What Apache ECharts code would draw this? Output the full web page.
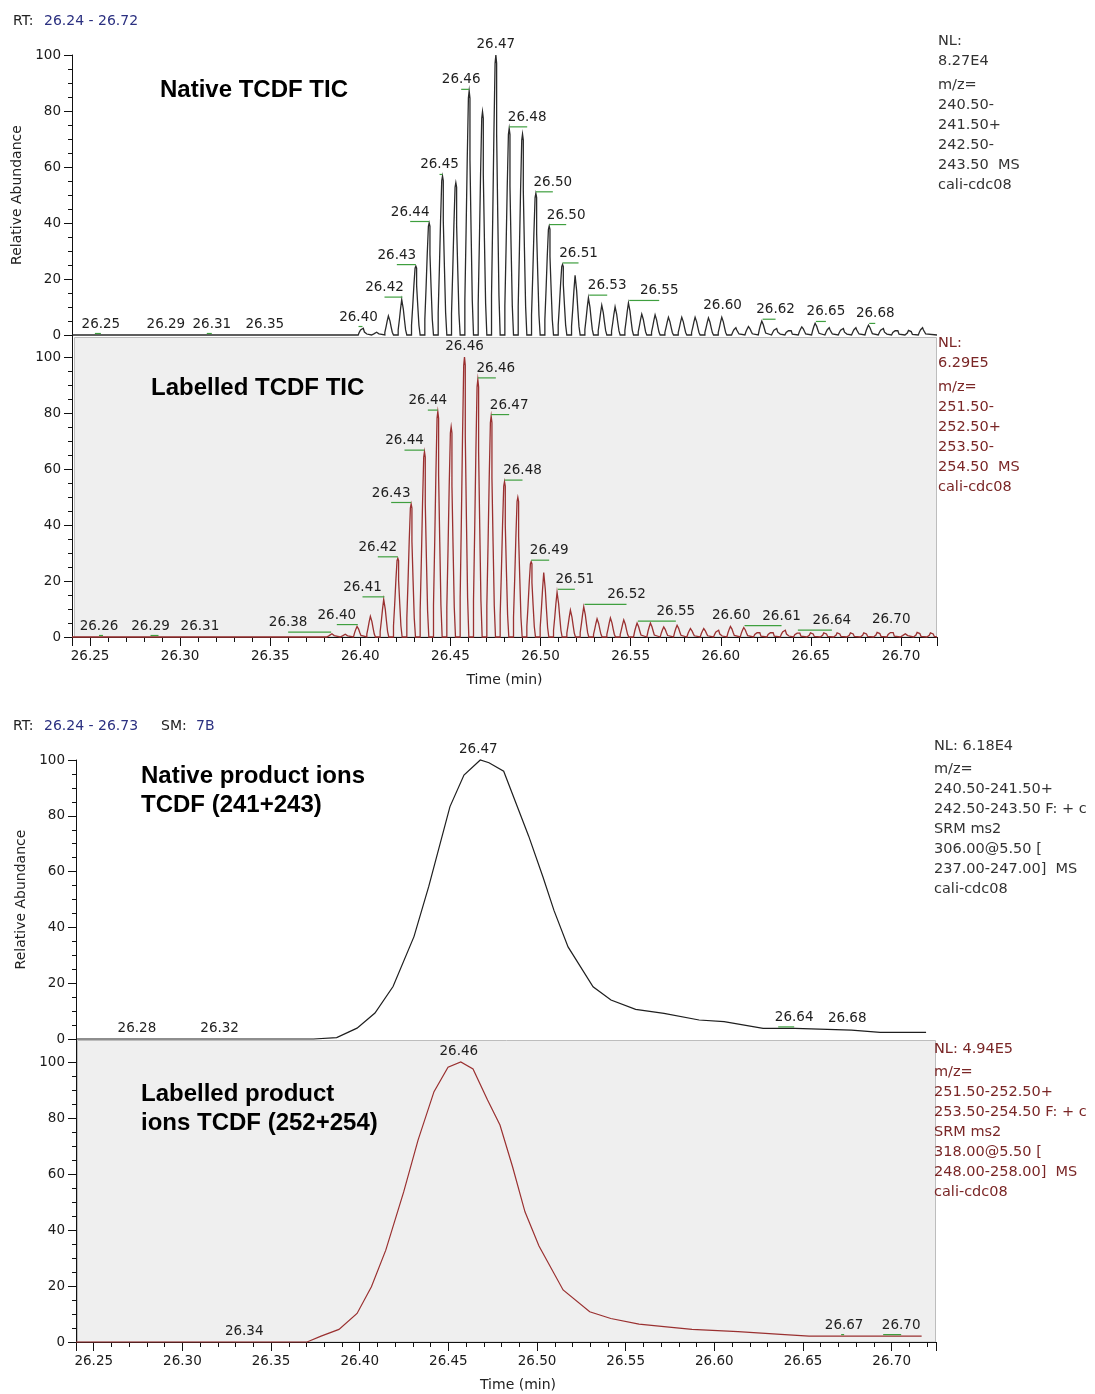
<!DOCTYPE html>
<html><head><meta charset="utf-8">
<script src="https://cdn.jsdelivr.net/npm/echarts@6/dist/echarts.min.js"></script>
<style>html,body{margin:0;padding:0;background:#fff}#c{width:1095px;height:1394px}</style>
</head><body><div id="c"></div>
<script>
// ---------------- DATA ----------------
// Panel 1: Native TCDF TIC (scan apex times, relative heights)
const nativeTicPeakTimes = [26.4012, 26.4086, 26.4160, 26.4234, 26.4308, 26.4382, 26.4456, 26.4530, 26.4604, 26.4678,
  26.4752, 26.4826, 26.4900, 26.4974, 26.5048, 26.5122, 26.5196, 26.5270, 26.5344, 26.5418,
  26.5492, 26.5566, 26.5640, 26.5714, 26.5788, 26.5862, 26.5936, 26.6010, 26.6084, 26.6158,
  26.6232, 26.6306, 26.6380, 26.6454, 26.6528, 26.6602, 26.6676, 26.6750, 26.6824, 26.6898,
  26.6972, 26.7046, 26.7120];
const nativeTicPeakHeights = [2.5, 1.0, 7.0, 13.0, 24.6, 40.0, 56.8, 54.4, 87.2, 79.8,
  100, 73.8, 71.8, 50.6, 38.9, 25.2, 22.0, 13.7, 11.0, 10.4,
  11.8, 7.7, 7.4, 6.5, 6.5, 6.5, 6.3, 6.5, 2.6, 3.1,
  5.1, 2.4, 2.1, 3.0, 4.3, 2.6, 2.4, 2.6, 3.6, 2.4,
  2.1, 1.7, 2.6];
const nativeTicLabelTimes = [26.2527, 26.2921, 26.3148, 26.3470, 26.4012, 26.4234, 26.4308, 26.4382, 26.4456, 26.4604,
  26.4752, 26.4826, 26.4974, 26.5048, 26.5122, 26.5270, 26.5492, 26.6010, 26.6232, 26.6528, 26.6824];
const nativeTicLabelTexts = ['26.25', '26.29', '26.31', '26.35', '26.40', '26.42', '26.43', '26.44', '26.45', '26.46',
  '26.47', '26.48', '26.50', '26.50', '26.51', '26.53', '26.55', '26.60', '26.62', '26.65', '26.68'];

// Panel 2: Labelled TCDF TIC
const labelledTicPeakTimes = [26.3838, 26.3912, 26.3986, 26.4060, 26.4134, 26.4208, 26.4282, 26.4356, 26.4430, 26.4504,
  26.4578, 26.4652, 26.4726, 26.4800, 26.4874, 26.4948, 26.5022, 26.5096, 26.5170, 26.5244,
  26.5318, 26.5392, 26.5466, 26.5540, 26.5614, 26.5688, 26.5762, 26.5836, 26.5910, 26.5984,
  26.6058, 26.6132, 26.6206, 26.6280, 26.6354, 26.6428, 26.6502, 26.6576, 26.6650, 26.6724,
  26.6798, 26.6872, 26.6946, 26.7020, 26.7094, 26.7168];
const labelledTicPeakHeights = [1.2, 1.0, 3.9, 7.6, 13.8, 28.1, 47.5, 66.2, 80.5, 75.1,
  100, 92.0, 78.9, 55.5, 49.9, 26.9, 23.7, 16.5, 9.9, 11.1,
  6.7, 7.0, 6.3, 5.1, 5.1, 3.7, 4.3, 3.1, 3.1, 2.5,
  3.9, 3.5, 2.1, 2.1, 2.5, 1.9, 1.5, 1.5, 1.5, 1.5,
  1.5, 1.7, 2.2, 1.2, 1.7, 1.5];
const labelledTicLabelTimes = [26.2572, 26.2880, 26.3110, 26.3838, 26.3986, 26.4134, 26.4208, 26.4282, 26.4356, 26.4430,
  26.4578, 26.4652, 26.4726, 26.4800, 26.4948, 26.5096, 26.5244, 26.5540, 26.6058, 26.6132, 26.6428, 26.6946];
const labelledTicLabelTexts = ['26.26', '26.29', '26.31', '26.38', '26.40', '26.41', '26.42', '26.43', '26.44', '26.44',
  '26.46', '26.46', '26.47', '26.48', '26.49', '26.51', '26.52', '26.55', '26.60', '26.61', '26.64', '26.70'];

// Panel 3: Native product ions TCDF (241+243)
const nativeProdTimes = [26.240, 26.374, 26.387, 26.3985, 26.4086, 26.4188, 26.4306, 26.4389, 26.4509, 26.4588,
  26.4680, 26.4729, 26.4812, 26.4953, 26.5034, 26.5096, 26.5175, 26.5316, 26.5417, 26.5556,
  26.5716, 26.5914, 26.6055, 26.6275, 26.6455, 26.6774, 26.6935, 26.7194];
const nativeProdValues = [0, 0, 0.5, 3.9, 9.3, 18.8, 36.7, 54.6, 83.3, 94.6,
  100, 99.0, 96.0, 72.7, 58.0, 46.0, 33.0, 18.7, 14.0, 10.6,
  9.2, 6.8, 6.2, 3.8, 3.8, 3.2, 2.4, 2.4];
const nativeProdLabelTimes = [26.4680, 26.2755, 26.3210, 26.6360, 26.6755];
const nativeProdLabelTexts = ['26.47', '26.28', '26.32', '26.64', '26.68'];

// Panel 4: Labelled product ions TCDF (252+254)
const labelledProdTimes = [26.240, 26.3703, 26.3782, 26.3883, 26.3985, 26.4066, 26.4147, 26.4248, 26.4329, 26.4419,
  26.4498, 26.4570, 26.4639, 26.4721, 26.4791, 26.4862, 26.4932, 26.5011, 26.5147, 26.5297,
  26.5416, 26.5575, 26.5716, 26.5874, 26.6134, 26.6375, 26.6534, 26.7169];
const labelledProdValues = [0, 0, 2.1, 4.5, 10.2, 19.7, 32.8, 53.6, 72.1, 89.4,
  98.1, 100, 97.5, 86.4, 77.5, 62.6, 46.5, 34.3, 18.6, 10.8,
  8.4, 6.4, 5.5, 4.5, 3.7, 2.7, 2.1, 2.1];
const labelledProdLabelTimes = [26.4570, 26.3360, 26.6715, 26.6952];
const labelledProdLabelTexts = ['26.46', '26.34', '26.67', '26.70'];

// Axis ranges and ticks
const topTimeRange = [26.24, 26.72];
const bottomTimeRange = [26.24, 26.725];
const yTickValues = [0, 20, 40, 60, 80, 100];

// ---------------- LAYOUT / STYLE ----------------
const nativeTicLabelShift = [6, 0, 5, 0, -4, -18, -19, -19, -3, -8, 0, 18, 17, 17, 16, 18, 30, 0, 13, 10, 6];
const labelledTicLabelShift = [-4, -8, 0, -43, -21, -22, -20, -20, -20, -10, 0, 18, 18, 18, 18, 17, 42, 38, 0, 37, 34, 0];
const nativeProdLabelShift = [-2, -2, 0, 16, -1];
const labelledProdLabelShift = [-2, -2, 3, 18];
// stepped spike glyph: [half-width fraction, height fraction] from base to apex
const SPIKE_HALF_WIDTH = 0.0024;
const SPIKE_PROFILE = [[1.0, 0], [1.0, 0.14], [0.72, 0.14], [0.72, 0.42], [0.45, 0.42], [0.45, 0.72], [0.18, 0.72], [0.18, 0.97], [0, 1]];
const FONT = '"DejaVu Sans", sans-serif';
const BOLD = '"Liberation Sans", Arial, sans-serif';
const BLACK_LINE = '#1e1e1e';
const GRAY_SPIKE = '#2a2a2a';
const RED_LINE = '#9a3030';
const RED_TEXT = '#7a2626';

function spikeTrace(times, heights, range) {
  const pts = [[range[0], 0]];
  times.forEach((t, i) => {
    const h = heights[i];
    for (let k = 0; k < SPIKE_PROFILE.length; k++) {
      pts.push([t - SPIKE_PROFILE[k][0] * SPIKE_HALF_WIDTH, SPIKE_PROFILE[k][1] * h]);
    }
    for (let k = SPIKE_PROFILE.length - 2; k >= 0; k--) {
      pts.push([t + SPIKE_PROFILE[k][0] * SPIKE_HALF_WIDTH, SPIKE_PROFILE[k][1] * h]);
    }
  });
  pts.push([range[1], 0]);
  return pts;
}
function zipTrace(times, vals) { return times.map((t, i) => [t, vals[i]]); }
function valueAt(trace, t) {
  let best = 0, found = false;
  for (let i = 0; i < trace.length - 1; i++) {
    const a = trace[i], b = trace[i + 1];
    if (t >= a[0] && t <= b[0]) {
      const v = b[0] === a[0] ? Math.max(a[1], b[1]) : a[1] + (b[1] - a[1]) * (t - a[0]) / (b[0] - a[0]);
      if (!found || v > best) { best = v; found = true; }
    }
  }
  return best;
}

const trace1 = spikeTrace(nativeTicPeakTimes, nativeTicPeakHeights, topTimeRange);
const trace2 = spikeTrace(labelledTicPeakTimes, labelledTicPeakHeights, topTimeRange);
const trace3 = zipTrace(nativeProdTimes, nativeProdValues);
const trace4 = zipTrace(labelledProdTimes, labelledProdValues);

const grids = [
  {left: 72, top: 55, width: 865, height: 280},
  {left: 72, top: 357, width: 865, height: 280},
  {left: 76, top: 760, width: 860, height: 279},
  {left: 76, top: 1062, width: 860, height: 280}
].map(g => Object.assign({show: false, containLabel: false, outerBoundsMode: 'none'}, g));

function yAxisOpt(k, name) {
  return {
    type: 'value', gridIndex: k, min: 0, max: 100, interval: 20,
    axisLine: {show: true, onZero: false, lineStyle: {color: '#111', width: 1}},
    axisTick: {show: true, length: 8, lineStyle: {color: '#111'}},
    minorTick: {show: true, splitNumber: 4, length: 4, lineStyle: {color: '#111'}},
    splitLine: {show: false}, minorSplitLine: {show: false},
    axisLabel: {show: true, color: '#1a1a1a', fontSize: 13.5, fontFamily: FONT, margin: 11,
      formatter: v => (yTickValues.indexOf(v) >= 0 ? String(v) : '')},
    name: name || '', nameLocation: 'middle', nameRotate: 90, nameGap: 42,
    nameTextStyle: {color: '#222', fontSize: 14, fontFamily: FONT}
  };
}
function xAxisOpt(k, range, visible, namePad) {
  return {
    type: 'value', gridIndex: k, min: range[0], max: range[1], splitNumber: 10, show: visible,
    axisLine: {show: true, onZero: false, lineStyle: {color: '#111', width: 1}},
    axisTick: {show: true, length: 9, lineStyle: {color: '#111'}},
    minorTick: {show: true, splitNumber: 5, length: 5, lineStyle: {color: '#111'}},
    splitLine: {show: false}, minorSplitLine: {show: false},
    axisLabel: {show: true, showMinLabel: false, showMaxLabel: false, color: '#1a1a1a', fontSize: 13.5,
      fontFamily: FONT, margin: 12, formatter: v => v.toFixed(2)},
    name: visible ? 'Time (min)' : '', nameLocation: 'middle', nameGap: 36,
    nameTextStyle: {color: '#222', fontSize: 14, fontFamily: FONT, padding: [0, 0, 0, namePad || 0]}
  };
}

function lineSeries(k, trace, color, width) {
  return {type: 'line', xAxisIndex: k, yAxisIndex: k, data: trace, showSymbol: false, symbol: 'none',
    lineStyle: {color: color, width: width, join: 'miter'}, clip: false, z: 3, silent: true, animation: false};
}
function labelSeries(k, trace, times, texts, shifts) {
  const data = times.map((t, i) => [t, valueAt(trace, t), i]);
  return {
    type: 'custom', xAxisIndex: k, yAxisIndex: k, silent: true, clip: false, z: 5, animation: false,
    dimensions: ['t', 'v', 'i'], encode: {x: 0, y: 1},
    data: data,
    renderItem: function (params, api) {
      const i = api.value(2);
      const p = api.coord([api.value(0), api.value(1)]);
      const dx = shifts[i];
      const kids = [];
      if (Math.abs(dx) >= 3) {
        kids.push({type: 'line', shape: {x1: p[0], y1: p[1] - 1.5, x2: p[0] + dx, y2: p[1] - 1.5},
          style: {stroke: '#3f9f3f', lineWidth: 1.2}});
      }
      kids.push({type: 'text', x: p[0] + dx, y: p[1] - 11,
        style: {text: texts[i], font: '13.5px ' + FONT, fill: '#1e1e1e', align: 'center', verticalAlign: 'middle',
          textAlign: 'center', textVerticalAlign: 'middle'}});
      return {type: 'group', children: kids};
    }
  };
}

function txt(x, y, text, opts) {
  opts = opts || {};
  return {type: 'text', x: x, y: y, z: 50, silent: true,
    style: {text: text, font: opts.font || ('14px ' + FONT), fill: opts.fill || '#222',
      lineHeight: opts.lh || 20, align: 'left', verticalAlign: opts.va || 'middle',
      textAlign: 'left', textVerticalAlign: opts.va || 'middle'}};
}

const RIGHT_FONT = '14.5px ' + FONT;
const TITLE_FONT = 'bold 24px ' + BOLD;
const graphics = [
  {type: 'rect', z: -10, silent: true, shape: {x: 74.5, y: 337.5, width: 862, height: 299.5},
    style: {fill: '#efefef', stroke: '#bdbdbd', lineWidth: 1}},
  {type: 'rect', z: -10, silent: true, shape: {x: 77.5, y: 1040.5, width: 858, height: 301.5},
    style: {fill: '#efefef', stroke: '#bdbdbd', lineWidth: 1}},
  {type: 'line', z: 10, silent: true, shape: {x1: 72.5, y1: 335, x2: 72.5, y2: 357}, style: {stroke: '#111', lineWidth: 1}},
  {type: 'line', z: 10, silent: true, shape: {x1: 76.5, y1: 1039, x2: 76.5, y2: 1062}, style: {stroke: '#111', lineWidth: 1}},
  // headers
  txt(13, 21, 'RT:'), txt(44, 21, '26.24 - 26.72', {fill: '#2b3080'}),
  txt(13, 726, 'RT:'), txt(44, 726, '26.24 - 26.73', {fill: '#2b3080'}),
  txt(161, 726, 'SM:'), txt(196, 726, '7B', {fill: '#2b3080'}),
  // titles
  txt(160, 90, 'Native TCDF TIC', {font: TITLE_FONT, fill: '#000'}),
  txt(151, 388, 'Labelled TCDF TIC', {font: TITLE_FONT, fill: '#000'}),
  txt(141, 762, 'Native product ions\nTCDF (241+243)', {font: TITLE_FONT, fill: '#000', va: 'top', lh: 29}),
  txt(141, 1080, 'Labelled product\nions TCDF (252+254)', {font: TITLE_FONT, fill: '#000', va: 'top', lh: 29}),
  // right-side info blocks
  txt(938, 31, 'NL:\n8.27E4', {font: RIGHT_FONT, fill: '#333', va: 'top'}),
  txt(938, 75, 'm/z=\n240.50-\n241.50+\n242.50-\n243.50  MS\ncali-cdc08', {font: RIGHT_FONT, fill: '#333', va: 'top'}),
  txt(938, 333, 'NL:\n6.29E5', {font: RIGHT_FONT, fill: RED_TEXT, va: 'top'}),
  txt(938, 377, 'm/z=\n251.50-\n252.50+\n253.50-\n254.50  MS\ncali-cdc08', {font: RIGHT_FONT, fill: RED_TEXT, va: 'top'}),
  txt(934, 736, 'NL: 6.18E4', {font: RIGHT_FONT, fill: '#333', va: 'top'}),
  txt(934, 759, 'm/z=\n240.50-241.50+\n242.50-243.50 F: + c\nSRM ms2\n306.00@5.50 [\n237.00-247.00]  MS\ncali-cdc08', {font: RIGHT_FONT, fill: '#333', va: 'top'}),
  txt(934, 1039, 'NL: 4.94E5', {font: RIGHT_FONT, fill: RED_TEXT, va: 'top'}),
  txt(934, 1062, 'm/z=\n251.50-252.50+\n253.50-254.50 F: + c\nSRM ms2\n318.00@5.50 [\n248.00-258.00]  MS\ncali-cdc08', {font: RIGHT_FONT, fill: RED_TEXT, va: 'top'})
];

const chart = echarts.init(document.getElementById('c'), null, {renderer: 'canvas', width: 1095, height: 1394});
chart.setOption({
  animation: false,
  backgroundColor: '#ffffff',
  grid: grids,
  xAxis: [xAxisOpt(0, topTimeRange, false), xAxisOpt(1, topTimeRange, true), xAxisOpt(2, bottomTimeRange, false), xAxisOpt(3, bottomTimeRange, true, 24)],
  yAxis: [yAxisOpt(0, 'Relative Abundance'), yAxisOpt(1), yAxisOpt(2, 'Relative Abundance'), yAxisOpt(3)],
  series: [
    lineSeries(0, trace1, GRAY_SPIKE, 1.3),
    lineSeries(1, trace2, RED_LINE, 1.3),
    lineSeries(2, trace3, BLACK_LINE, 1.2),
    lineSeries(3, trace4, RED_LINE, 1.2),
    labelSeries(0, trace1, nativeTicLabelTimes, nativeTicLabelTexts, nativeTicLabelShift),
    labelSeries(1, trace2, labelledTicLabelTimes, labelledTicLabelTexts, labelledTicLabelShift),
    labelSeries(2, trace3, nativeProdLabelTimes, nativeProdLabelTexts, nativeProdLabelShift),
    labelSeries(3, trace4, labelledProdLabelTimes, labelledProdLabelTexts, labelledProdLabelShift)
  ],
  graphic: graphics
});
</script></body></html>
